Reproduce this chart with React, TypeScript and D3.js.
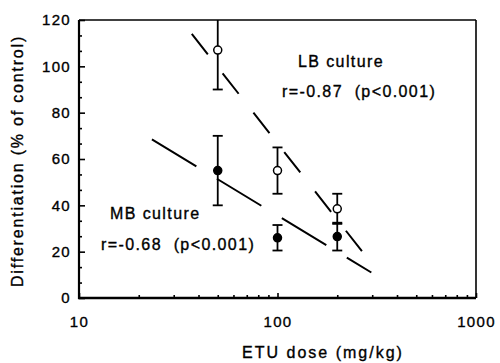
import React, { useRef, useEffect } from "react";
import { select, scaleLog, scaleLinear, axisLeft, axisBottom, line, range } from "d3";

// doses (mg/kg) and group means / SD
const doses = [50, 100, 200];
const lbMean = [107, 55, 38.5];
const lbErr = [17, 10, 6.5];
const mbMean = [55, 26, 26.5];
const mbErr = [15, 5.5, 6];

// regression line end points [dose, value]
const lbFit: [number, number][] = [
  [37, 114],
  [273, 19],
];
const mbFit: [number, number][] = [
  [23.3, 68.5],
  [297, 11],
];

const yTicks = [0, 20, 40, 60, 80, 100, 120];
const xTicks = [10, 100, 1000];

const W = 500;
const H = 363;
const FONT = "'Liberation Sans', Arial, Helvetica, sans-serif";

const App: React.FC = () => {
  const svgRef = useRef<SVGSVGElement>(null);

  useEffect(() => {
    const svg = select(svgRef.current);
    svg.selectAll("*").remove();

    const left = 79;
    const right = 476;
    const top = 20;
    const bottom = 298;

    const x = scaleLog().domain([10, 1000]).range([left, right]);
    const y = scaleLinear().domain([0, 120]).range([bottom, top]);

    svg.append("rect").attr("width", W).attr("height", H).attr("fill", "#fff");

    // y axis: majors + minor ticks (3 per major interval)
    const yMinor = range(0, 121, 20 / 3).filter(
      (v) => Math.abs(v % 20) > 0.01 && Math.abs((v % 20) - 20) > 0.01
    );
    const yMinorG = svg
      .append("g")
      .attr("transform", `translate(${left},0)`)
      .call(axisLeft(y).tickValues(yMinor).tickSize(-3).tickFormat(() => ""));
    const yAxisG = svg
      .append("g")
      .attr("transform", `translate(${left},0)`)
      .call(axisLeft(y).tickValues(yTicks).tickSize(-6).tickPadding(8));

    // x axis: decades + log minor ticks
    const xMinor = [20, 30, 40, 50, 60, 70, 80, 90, 200, 300, 400, 500, 600, 700, 800, 900];
    const xMinorG = svg
      .append("g")
      .attr("transform", `translate(0,${bottom})`)
      .call(axisBottom(x).tickValues(xMinor).tickSize(-3).tickFormat(() => ""));
    const xAxisG = svg
      .append("g")
      .attr("transform", `translate(0,${bottom})`)
      .call(
        axisBottom(x)
          .tickValues(xTicks)
          .tickSize(-5)
          .tickPadding(18)
          .tickFormat((d) => String(d))
      );

    [yMinorG, yAxisG, xMinorG, xAxisG].forEach((g) => {
      g.select(".domain").remove();
      g.selectAll("line").attr("stroke", "#000").attr("stroke-width", 1.6);
      g.selectAll("text")
        .attr("fill", "#000")
        .attr("stroke", "#000")
        .attr("stroke-width", 0.35)
        .style("font-family", FONT)
        .style("font-size", "15px")
        .style("letter-spacing", "1.3px");
    });

    // frame
    const frame = svg.append("g").attr("stroke", "#000").attr("fill", "none");
    frame.append("line").attr("x1", left).attr("x2", right).attr("y1", top).attr("y2", top).attr("stroke-width", 1.6);
    frame.append("line").attr("x1", right).attr("x2", right).attr("y1", top).attr("y2", bottom).attr("stroke-width", 1.6);
    frame.append("line").attr("x1", left).attr("x2", left).attr("y1", top).attr("y2", bottom + 1).attr("stroke-width", 2.2);
    frame.append("line").attr("x1", left - 1).attr("x2", right).attr("y1", bottom).attr("y2", bottom).attr("stroke-width", 2.4);

    // regression lines
    const fitLine = line<[number, number]>()
      .x((d) => x(d[0]))
      .y((d) => y(d[1]));
    svg
      .append("path")
      .attr("d", fitLine(lbFit))
      .attr("fill", "none")
      .attr("stroke", "#000")
      .attr("stroke-width", 2)
      .attr("stroke-dasharray", "26 24");
    svg
      .append("path")
      .attr("d", fitLine(mbFit))
      .attr("fill", "none")
      .attr("stroke", "#000")
      .attr("stroke-width", 2)
      .attr("stroke-dasharray", "52 24");

    // error bars + markers
    const drawSeries = (means: number[], errs: number[], open: boolean) => {
      const g = svg.append("g");
      doses.forEach((dose, i) => {
        const cx = x(dose);
        const hi = Math.min(means[i] + errs[i], 120);
        const lo = means[i] - errs[i];
        g.append("line")
          .attr("x1", cx)
          .attr("x2", cx)
          .attr("y1", y(hi))
          .attr("y2", y(lo))
          .attr("stroke", "#000")
          .attr("stroke-width", 1.8);
        [hi, lo].forEach((v) => {
          if (v >= 120) return;
          g.append("line")
            .attr("x1", cx - 5)
            .attr("x2", cx + 5)
            .attr("y1", y(v))
            .attr("y2", y(v))
            .attr("stroke", "#000")
            .attr("stroke-width", 1.8);
        });
        g.append("circle")
          .attr("cx", cx)
          .attr("cy", y(means[i]))
          .attr("r", 4)
          .attr("fill", open ? "#fff" : "#000")
          .attr("stroke", "#000")
          .attr("stroke-width", 1.5);
      });
    };
    drawSeries(lbMean, lbErr, true);
    drawSeries(mbMean, mbErr, false);

    // annotations
    const label = (tx: number, ty: number, txt: string) =>
      svg
        .append("text")
        .attr("x", tx)
        .attr("y", ty)
        .attr("fill", "#000")
        .attr("stroke", "#000")
        .attr("stroke-width", 0.35)
        .style("font-family", FONT)
        .style("font-size", "16px")
        .style("letter-spacing", "1.4px")
        .style("white-space", "pre")
        .text(txt);
    label(298, 67, "LB culture");
    label(282, 97, "r=-0.87  (p<0.001)");
    label(110, 219, "MB culture");
    label(101, 250, "r=-0.68  (p<0.001)");

    // axis titles
    svg
      .append("text")
      .attr("transform", `translate(23,161) rotate(-90)`)
      .attr("text-anchor", "middle")
      .attr("fill", "#000")
      .attr("stroke", "#000")
      .attr("stroke-width", 0.35)
      .style("font-family", FONT)
      .style("font-size", "16px")
      .style("letter-spacing", "1.8px")
      .text("Differentiation (% of control)");
    svg
      .append("text")
      .attr("x", 323)
      .attr("y", 358)
      .attr("text-anchor", "middle")
      .attr("fill", "#000")
      .attr("stroke", "#000")
      .attr("stroke-width", 0.35)
      .style("font-family", FONT)
      .style("font-size", "16px")
      .style("letter-spacing", "2px")
      .text("ETU dose (mg/kg)");
  }, []);

  return (
    <svg
      ref={svgRef}
      width={W}
      height={H}
      viewBox={`0 0 ${W} ${H}`}
      style={{ position: "absolute", left: 0, top: 0, display: "block" }}
    />
  );
};

export default App;
